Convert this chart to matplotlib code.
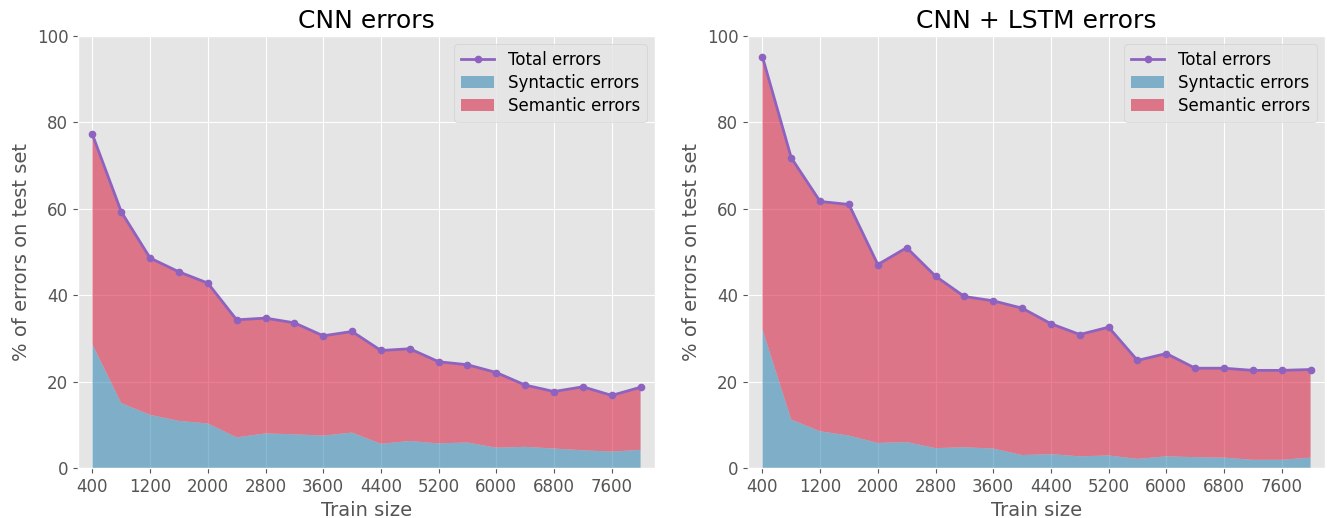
import matplotlib
matplotlib.use("Agg")
import matplotlib.pyplot as plt
import numpy as np

plt.style.use("ggplot")

train_size = [400, 800, 1200, 1600, 2000, 2400, 2800, 3200, 3600, 4000,
              4400, 4800, 5200, 5600, 6000, 6400, 6800, 7200, 7600, 8000]
xticks = [400, 1200, 2000, 2800, 3600, 4400, 5200, 6000, 6800, 7600]

cnn_total = [77.2, 59.3, 48.6, 45.4, 42.8, 34.3, 34.7, 33.6, 30.6, 31.6,
             27.2, 27.6, 24.6, 23.9, 22.1, 19.2, 17.7, 18.8, 16.8, 18.7]
cnn_syntactic = [28.6, 15.0, 12.3, 10.9, 10.3, 7.1, 8.0, 7.8, 7.5, 8.2,
                 5.6, 6.25, 5.7, 5.9, 4.7, 4.9, 4.5, 4.1, 3.8, 4.2]

lstm_total = [95.2, 71.8, 61.7, 61.0, 47.1, 51.0, 44.4, 39.7, 38.7, 37.0,
              33.4, 30.9, 32.6, 24.9, 26.5, 23.1, 23.1, 22.6, 22.6, 22.8]
lstm_syntactic = [32.1, 11.2, 8.5, 7.5, 5.8, 6.0, 4.6, 4.8, 4.5, 3.0,
                  3.2, 2.7, 2.9, 2.1, 2.7, 2.5, 2.4, 1.9, 1.9, 2.4]

titles = ["CNN errors", "CNN + LSTM errors"]
totals = [cnn_total, lstm_total]
syntactics = [cnn_syntactic, lstm_syntactic]

fig = plt.figure(figsize=(13.27, 5.18), dpi=100)
axes = [fig.add_axes([78/1327, 50/518, 577/1327, 432/518]),
        fig.add_axes([748/1327, 50/518, 577/1327, 432/518])]

for ax, title, tot, syn in zip(axes, titles, totals, syntactics):
    x = np.array(train_size)
    tot = np.array(tot)
    syn = np.array(syn)
    sem = tot - syn
    ax.stackplot(x, syn, sem, colors=["#3b8bb6", "#d92a4c"], alpha=0.6,
                 labels=["Syntactic errors", "Semantic errors"])
    ax.plot(x, tot, color="#8e63bf", marker="o", markersize=4.5,
            linewidth=2, label="Total errors", zorder=3)
    ax.set_xlim(200, 8200)
    ax.set_ylim(0, 100)
    ax.set_xticks(xticks)
    ax.set_yticks([0, 20, 40, 60, 80, 100])
    ax.tick_params(labelsize=12)
    ax.set_title(title, fontsize=18)
    ax.set_xlabel("Train size", fontsize=14)
    ax.set_ylabel("% of errors on test set", fontsize=14)
    handles, labels = ax.get_legend_handles_labels()
    order = [2, 0, 1]
    ax.legend([handles[i] for i in order], [labels[i] for i in order],
              loc="upper right", fontsize=12, labelspacing=0.3)

fig.savefig("out.png", dpi=100)
